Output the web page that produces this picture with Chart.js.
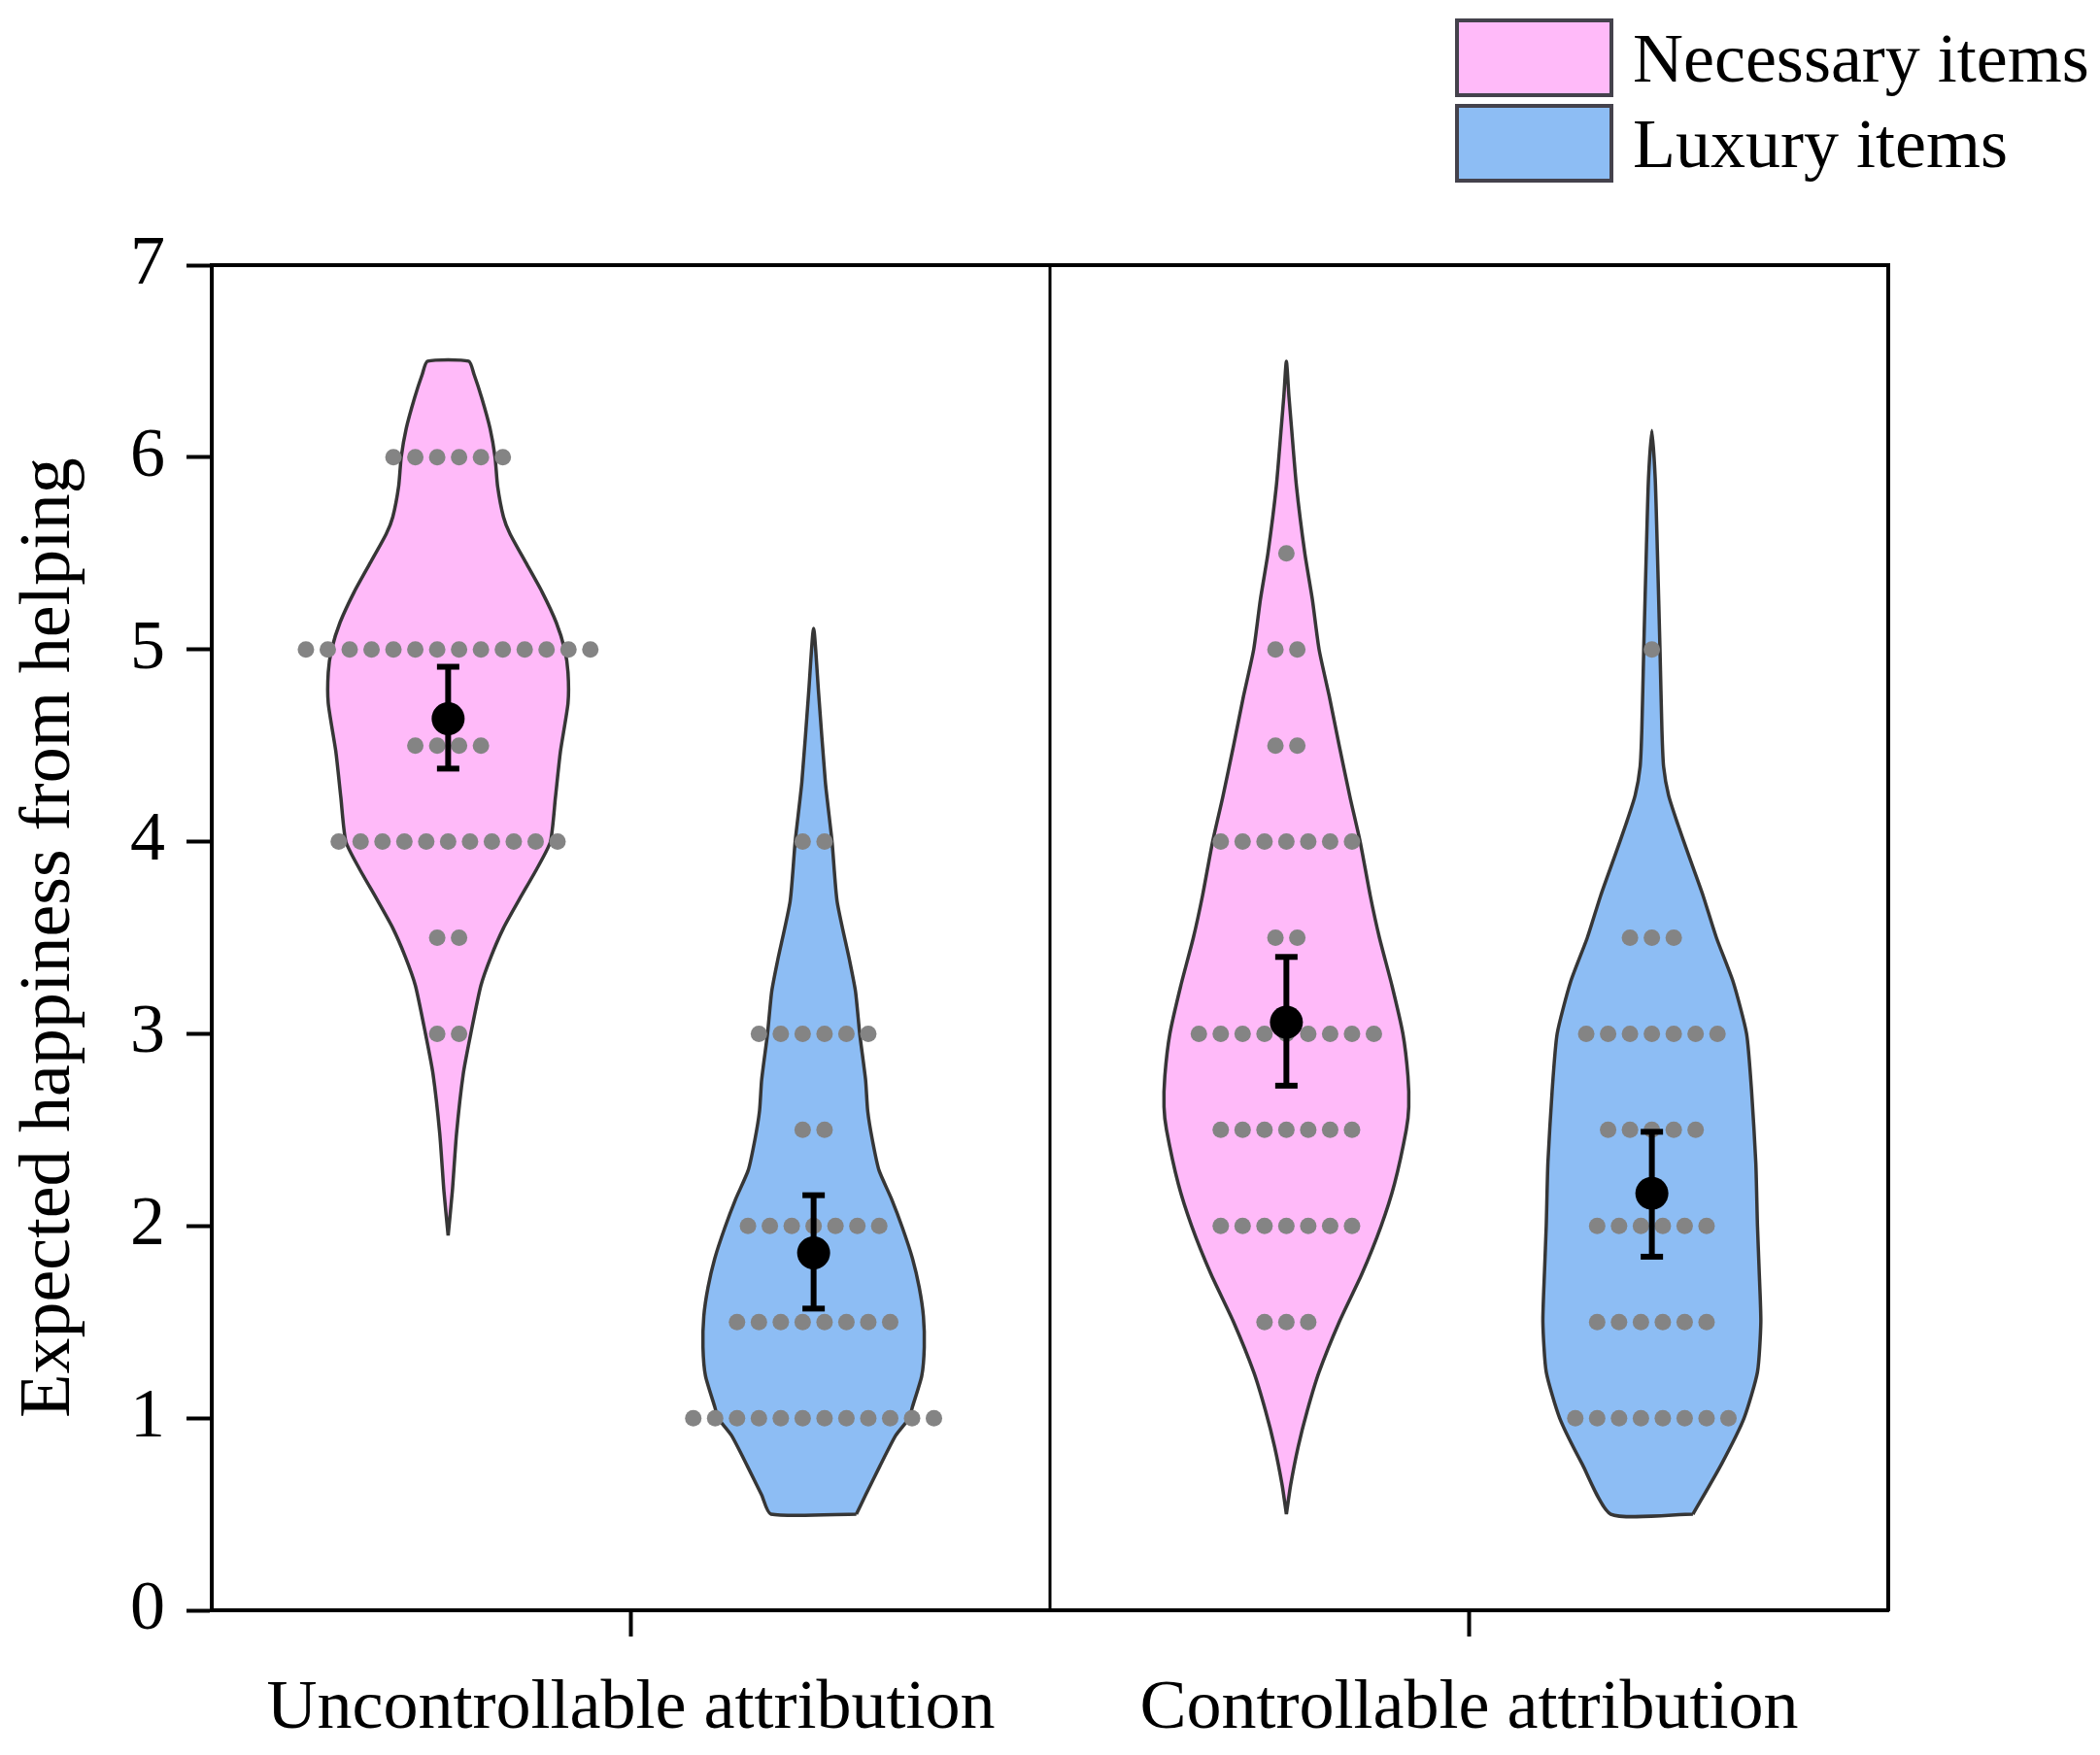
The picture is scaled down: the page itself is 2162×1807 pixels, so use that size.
<!DOCTYPE html>
<html>
<head>
<meta charset="utf-8">
<script src="https://cdn.jsdelivr.net/npm/chart.js@4.4.1/dist/chart.umd.min.js"></script>
<style>
html,body{margin:0;padding:0;background:#ffffff;}
#wrap{width:2162px;height:1807px;}
</style>
</head>
<body>
<div id="wrap"><canvas id="c" width="2162" height="1807"></canvas></div>
<script>
// ---------- data ----------
const categories = ["Uncontrollable attribution", "Controllable attribution"];
const seriesNames = ["Necessary items", "Luxury items"];
const yTickValues = [0, 1, 2, 3, 4, 5, 6, 7];
const yAxisTitle = "Expected happiness from helping";

// violin outlines: y levels and half-widths (in category units)
const necUncY = [1.95, 2.18, 2.48, 2.79, 3.0, 3.25, 3.4, 3.55, 3.7, 3.86, 4.0, 4.23, 4.47, 4.72, 4.88, 5.0, 5.14, 5.3, 5.45, 5.6, 5.69, 5.85, 6.0, 6.15, 6.31, 6.43, 6.5];
const necUncW = [0, 0.005, 0.010, 0.018, 0.027, 0.039, 0.051, 0.066, 0.085, 0.106, 0.122, 0.128, 0.134, 0.143, 0.143, 0.139, 0.129, 0.112, 0.093, 0.074, 0.066, 0.059, 0.056, 0.050, 0.040, 0.031, 0.0245];
const luxUncY = [0.5, 0.6, 0.75, 0.91, 1.0, 1.06, 1.22, 1.37, 1.53, 1.68, 1.83, 1.99, 2.14, 2.29, 2.45, 2.6, 2.76, 3.0, 3.22, 3.38, 3.69, 4.0, 4.31, 4.77, 5.11];
const luxUncW = [0.051, 0.062, 0.079, 0.098, 0.114, 0.118, 0.129, 0.132, 0.131, 0.126, 0.118, 0.106, 0.093, 0.078, 0.070, 0.0645, 0.062, 0.055, 0.050, 0.043, 0.028, 0.022, 0.014, 0.006, 0];
const necConY = [0.5, 0.65, 0.85, 1.04, 1.24, 1.5, 1.75, 2.0, 2.22, 2.5, 2.62, 2.78, 3.0, 3.25, 3.5, 3.72, 4.0, 4.23, 4.5, 4.76, 5.0, 5.26, 5.5, 5.85, 6.16, 6.32, 6.5];
const necConW = [0, 0.005, 0.014, 0.025, 0.039, 0.063, 0.090, 0.113, 0.129, 0.143, 0.146, 0.145, 0.139, 0.126, 0.111, 0.100, 0.088, 0.076, 0.063, 0.051, 0.039, 0.031, 0.022, 0.012, 0.006, 0.003, 0];
const luxConY = [0.5, 0.76, 1.0, 1.24, 1.5, 1.77, 2.0, 2.33, 2.7, 3.0, 3.27, 3.5, 3.72, 3.94, 4.09, 4.24, 4.39, 4.58, 5.0, 5.51, 5.89, 6.14];
const luxConW = [0.049, 0.083, 0.110, 0.126, 0.130, 0.128, 0.126, 0.124, 0.119, 0.113, 0.097, 0.077, 0.061, 0.043, 0.031, 0.020, 0.014, 0.012, 0.0097, 0.0066, 0.004, 0];

// individual responses: value levels and number of participants at each level
const necUncDotY = [3, 3.5, 4, 4.5, 5, 6];
const necUncDotN = [2, 2, 11, 4, 14, 6];
const luxUncDotY = [1, 1.5, 2, 2.5, 3, 4];
const luxUncDotN = [12, 8, 7, 2, 6, 2];
const necConDotY = [1.5, 2, 2.5, 3, 3.5, 4, 4.5, 5, 5.5];
const necConDotN = [3, 7, 7, 9, 2, 7, 2, 2, 1];
const luxConDotY = [1, 1.5, 2, 2.5, 3, 3.5, 5];
const luxConDotN = [8, 6, 6, 5, 7, 3, 1];

// means and error bars, order: necUnc, luxUnc, necCon, luxCon
const meanValues = [4.64, 1.86, 3.06, 2.17];
const errLow     = [4.38, 1.57, 2.73, 1.84];
const errHigh    = [4.91, 2.16, 3.40, 2.49];

// ---------- layout / style ----------
const catCenters = [0.5, 1.5];
const serOffset = [-0.218, 0.218];
const dividerX = 1;
const fillColors = ['#FFBAF9', '#8DBDF4'];
const outlineColor = '#363636';
const dotColor = '#848484';
const dotStep = 0.0261;
const FONT = 'Liberation Serif, Times New Roman, serif';

const groups = [
  {cat: 0, ser: 0, ys: necUncY, ws: necUncW, dy: necUncDotY, dn: necUncDotN},
  {cat: 0, ser: 1, ys: luxUncY, ws: luxUncW, dy: luxUncDotY, dn: luxUncDotN},
  {cat: 1, ser: 0, ys: necConY, ws: necConW, dy: necConDotY, dn: necConDotN},
  {cat: 1, ser: 1, ys: luxConY, ws: luxConW, dy: luxConDotY, dn: luxConDotN}
];

function violinPoints(cx, ys, ws) {
  const pts = [];
  for (let i = 0; i < ys.length; i++) pts.push({x: cx + ws[i], y: ys[i]});
  for (let i = ys.length - 1; i >= 0; i--) {
    if (i === ys.length - 1 && ws[i] === 0) continue;
    if (i === 0 && ws[i] === 0) continue;
    pts.push({x: cx - ws[i], y: ys[i]});
  }
  pts.push({x: pts[0].x, y: pts[0].y});
  return pts;
}

const datasets = [];
// divider between the two attribution conditions
datasets.push({
  label: 'divider', data: [{x: dividerX, y: 0}, {x: dividerX, y: 7}],
  showLine: true, borderColor: '#000', borderWidth: 3, pointRadius: 0, order: 10, fill: false
});
groups.forEach((g, gi) => {
  const cx = catCenters[g.cat] + serOffset[g.ser];
  datasets.push({
    label: seriesNames[g.ser], data: violinPoints(cx, g.ys, g.ws),
    showLine: true, fill: 'shape', backgroundColor: fillColors[g.ser],
    borderColor: outlineColor, borderWidth: 3.5, tension: 0.2,
    pointRadius: 0, pointHitRadius: 0, order: 8
  });
  const dots = [];
  g.dy.forEach((yv, k) => {
    const n = g.dn[k];
    for (let j = 0; j < n; j++) dots.push({x: cx + (j - (n - 1) / 2) * dotStep, y: yv});
  });
  datasets.push({
    label: 'responses', data: dots, showLine: false,
    pointRadius: 8.5, pointBackgroundColor: dotColor, pointBorderWidth: 0, order: 6
  });
  datasets.push({
    label: 'error', data: [{x: cx, y: errLow[gi]}, {x: cx, y: errHigh[gi]}],
    showLine: true, borderColor: '#000', borderWidth: 6,
    pointStyle: 'line', pointRadius: 11.5, pointBorderWidth: 6, pointBorderColor: '#000', order: 4
  });
  datasets.push({
    label: 'mean', data: [{x: cx, y: meanValues[gi]}], showLine: false,
    pointRadius: 17, pointBackgroundColor: '#000', pointBorderWidth: 0, order: 2
  });
});

const legendPlugin = {
  id: 'boxLegend',
  afterDraw(chart) {
    const ctx = chart.ctx;
    ctx.save();
    const tops = [21, 109];
    seriesNames.forEach((name, i) => {
      ctx.fillStyle = fillColors[i];
      ctx.fillRect(1500, tops[i], 159, 77);
      ctx.lineWidth = 4;
      ctx.strokeStyle = '#44424c';
      ctx.strokeRect(1500, tops[i], 159, 77);
      ctx.fillStyle = '#000';
      ctx.font = '72px ' + FONT;
      ctx.textBaseline = 'middle';
      ctx.textAlign = 'left';
      ctx.fillText(name, 1681, tops[i] + 44);
    });
    ctx.restore();
  }
};

const tickFont = {family: FONT, size: 72};

new Chart(document.getElementById('c'), {
  type: 'scatter',
  data: {datasets},
  plugins: [legendPlugin],
  options: {
    responsive: false,
    devicePixelRatio: 1,
    animation: false,
    layout: {padding: {top: 273, right: 218, bottom: 0, left: 0}},
    plugins: {legend: {display: false}, tooltip: {enabled: false}},
    scales: {
      x: {
        type: 'linear', position: 'bottom', min: 0, max: 2,
        afterBuildTicks: ax => { ax.ticks = catCenters.map(v => ({value: v})); },
        afterFit: ax => { ax.height = 149; },
        ticks: {
          autoSkip: false, maxRotation: 0, padding: 32, color: '#000', font: tickFont,
          callback: v => { const i = catCenters.indexOf(v); return i >= 0 ? categories[i] : ''; }
        },
        grid: {drawOnChartArea: false, drawTicks: true, tickLength: 27, tickWidth: 4, tickColor: '#000'},
        border: {display: true, color: '#000', width: 4}
      },
      x2: {
        type: 'linear', position: 'top', min: 0, max: 2,
        afterFit: ax => { ax.height = 0; },
        ticks: {display: false},
        grid: {drawOnChartArea: false, drawTicks: false},
        border: {display: true, color: '#000', width: 4}
      },
      y: {
        type: 'linear', position: 'left', min: 0, max: 7,
        afterBuildTicks: ax => { ax.ticks = yTickValues.map(v => ({value: v})); },
        afterFit: ax => { ax.width = 218; },
        ticks: {padding: 22, color: '#000', font: tickFont},
        grid: {drawOnChartArea: false, drawTicks: true, tickLength: 26, tickWidth: 4, tickColor: '#000'},
        border: {display: true, color: '#000', width: 4},
        title: {display: true, text: yAxisTitle, color: '#000', font: {family: FONT, size: 74}, padding: {top: 7, bottom: 0}}
      },
      y2: {
        type: 'linear', position: 'right', min: 0, max: 7,
        afterFit: ax => { ax.width = 0; },
        ticks: {display: false},
        grid: {drawOnChartArea: false, drawTicks: false},
        border: {display: true, color: '#000', width: 4}
      }
    }
  }
});
</script>
</body>
</html>
